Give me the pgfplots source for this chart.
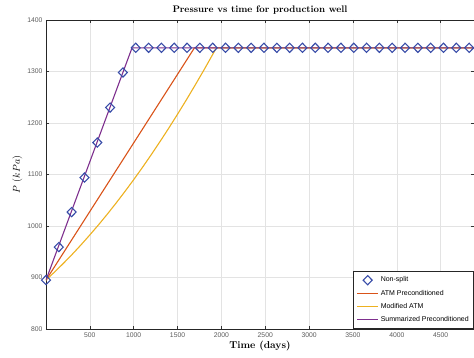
\documentclass[border=0pt]{standalone}
\usepackage{fontspec}
\setsansfont{Liberation Sans}
\usepackage{pgfplots}
\pgfplotsset{compat=1.18}
\definecolor{mblue}{rgb}{0.22,0.30,0.66}
\definecolor{morange}{rgb}{0.85,0.325,0.098}
\definecolor{myellow}{rgb}{0.929,0.694,0.125}
\definecolor{mpurple}{rgb}{0.494,0.184,0.556}
\definecolor{tickgray}{gray}{0.35}
\begin{document}
\begin{tikzpicture}
\begin{axis}[
  scale only axis,
  width=428pt, height=309pt,
  xmin=0, xmax=4880, ymin=800, ymax=1400,
  xtick={500,1000,...,4500},
  ytick={800,900,...,1400},
  grid=major,
  major grid style={gray!22, line width=0.6pt},
  tick align=inside,
  major tick length=3pt,
  tick style={gray!40!black, line width=0.6pt},
  axis line style={gray!30!black, line width=0.7pt},
  /pgf/number format/assume math mode=true,
  /pgf/number format/1000 sep={},
  ticklabel style={font=\sffamily\fontsize{6.8}{7}\selectfont, text=tickgray},
  title={\bfseries Pressure vs time for production well},
  title style={font=\fontsize{9.5}{11}\selectfont, yshift=-4pt},
  xlabel={\bfseries Time (days)},
  xlabel style={font=\fontsize{10}{11}\selectfont, yshift=3pt},
  ylabel={$P\ (kPa)$},
  ylabel style={font=\fontsize{10}{11}\selectfont, yshift=-2pt},
  legend style={at={(1,0)}, anchor=south east, font=\sffamily\fontsize{7}{8}\selectfont,
    draw=gray!30!black, line width=0.6pt, row sep=2.5pt, inner xsep=3pt, inner ysep=4pt},
  legend image code/.code={\draw[mark repeat=2,mark phase=2,#1] plot coordinates {(0cm,0cm) (0.37cm,0cm) (0.74cm,0cm)};},
  legend cell align=left,
]
\coordinate (sw) at (rel axis cs:0,0);
\coordinate (ne) at (rel axis cs:1,1);
\addplot[only marks, mark=diamond, mark size=4.6pt, mark options={xscale=1.3}, mblue, line width=1.1pt] coordinates {
(0,895) (146,959) (292,1027) (439,1094) (585,1162) (731,1230) (877,1298)
(1023,1346) (1170,1346) (1316,1346) (1462,1346) (1608,1346) (1754,1346) (1901,1346)
(2047,1346) (2193,1346) (2339,1346) (2485,1346) (2632,1346) (2778,1346) (2924,1346)
(3070,1346) (3216,1346) (3363,1346) (3509,1346) (3655,1346) (3801,1346) (3947,1346)
(4094,1346) (4240,1346) (4386,1346) (4532,1346) (4678,1346) (4825,1346) (4971,1346)
};
\addlegendentry{Non-split}
\addplot[morange, line width=1.1pt] coordinates {
(0,895) (1693,1346) (5000,1346)
};
\addlegendentry{ATM Preconditioned}
\addplot[myellow, line width=1.1pt] coordinates {
(0,895) (100,911.0) (200,927.7) (300,945.2) (400,963.5) (500,982.7) (600,1002.5)
(700,1023.2) (800,1044.7) (900,1067.0) (1000,1090) (1100,1113.8) (1200,1138.5)
(1300,1163.9) (1400,1190.1) (1500,1217.1) (1600,1244.8) (1700,1273.4) (1800,1302.7)
(1900,1332.9) (1943,1346) (5000,1346)
};
\addlegendentry{Modified ATM}
\addplot[mpurple, line width=1.1pt] coordinates {
(0,895) (981,1346) (5000,1346)
};
\addlegendentry{Summarized Preconditioned}
\end{axis}
\pgfresetboundingbox
\path ([shift={(-46pt,-29pt)}]sw) rectangle ([shift={(0pt,20pt)}]ne);
\end{tikzpicture}
\end{document}
